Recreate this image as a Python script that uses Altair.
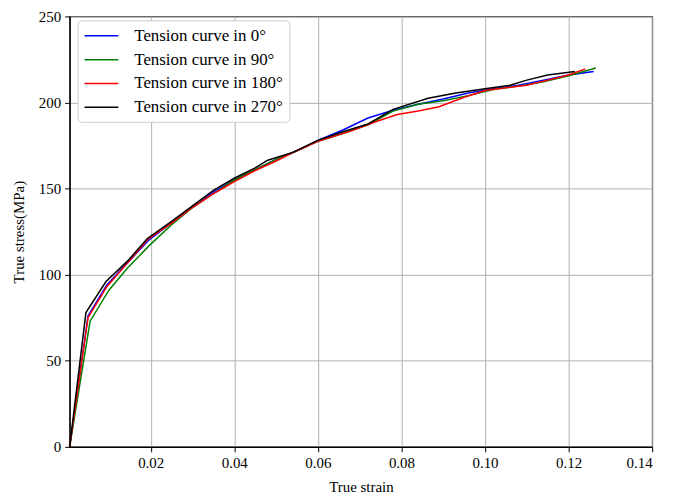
import altair as alt
import pandas as pd

labels = ["Tension curve in 0°", "Tension curve in 90°", "Tension curve in 180°", "Tension curve in 270°"]
colors = ["#0000ff", "#008000", "#ff0000", "#000000"]

strain_0 = [0.0006, 0.005, 0.0095, 0.0145, 0.0195, 0.025, 0.030, 0.035, 0.040, 0.045, 0.050, 0.055, 0.060,
            0.066, 0.072, 0.078, 0.084, 0.090, 0.096, 0.102, 0.108, 0.114, 0.120, 0.126]
stress_0 = [0, 76, 94, 107, 120, 130, 139, 148, 155, 161, 167, 172, 178,
            184, 191, 195.5, 199, 202, 205.5, 208, 210, 213, 216, 218]

strain_90 = [0.0006, 0.0055, 0.010, 0.0145, 0.0197, 0.025, 0.030, 0.035, 0.040, 0.045, 0.050, 0.055, 0.060,
             0.066, 0.072, 0.078, 0.084, 0.090, 0.096, 0.102, 0.108, 0.114, 0.120, 0.1265]
stress_90 = [0, 73, 91, 104, 117, 129, 139, 147, 155, 161, 167, 172, 177.5,
             182, 187, 195, 199, 201, 204, 207.5, 209.5, 212, 215.5, 220]

strain_180 = [0.0006, 0.005, 0.0095, 0.0145, 0.0195, 0.025, 0.030, 0.035, 0.040, 0.045, 0.050, 0.055, 0.060,
              0.068, 0.074, 0.079, 0.084, 0.089, 0.095, 0.100, 0.105, 0.110, 0.115, 0.120, 0.124]
stress_180 = [0, 75, 93, 107, 121, 130, 139, 147, 154, 160.5, 166, 172, 177.5,
              183.5, 189, 193, 195, 197.5, 203, 207, 208.5, 210, 213, 216, 219.5]

strain_270 = [0.0006, 0.0045, 0.0093, 0.0145, 0.0192, 0.025, 0.030, 0.035, 0.040, 0.045, 0.048, 0.054, 0.060,
              0.066, 0.072, 0.078, 0.0864, 0.093, 0.100, 0.106, 0.110, 0.115, 0.1215]
stress_270 = [0, 78, 96, 108, 121, 131, 140, 149, 156, 162, 166.5, 171, 178,
              183, 187.5, 196, 202.5, 205.5, 208, 210, 213, 216, 218]

x_ticks = [0.02, 0.04, 0.06, 0.08, 0.10, 0.12, 0.14]
y_ticks = [0, 50, 100, 150, 200, 250]

series = [(labels[0], strain_0, stress_0), (labels[1], strain_90, stress_90),
          (labels[2], strain_180, stress_180), (labels[3], strain_270, stress_270)]
rows = []
for k, (lab, xs, ys) in enumerate(series):
    for i, (x, y) in enumerate(zip(xs, ys)):
        rows.append({"series": lab, "strain": x, "stress": y, "order": i, "k": k})
df = pd.DataFrame(rows)

FONT = "Liberation Serif"

chart = alt.Chart(df).mark_line(strokeWidth=1.5).encode(
    x=alt.X("strain:Q", title="True strain",
            scale=alt.Scale(domain=[0.0006, 0.14], nice=False, zero=False),
            axis=alt.Axis(values=x_ticks, format=".2f")),
    y=alt.Y("stress:Q", title="True stress(MPa)",
            scale=alt.Scale(domain=[0, 250], nice=False),
            axis=alt.Axis(values=y_ticks, format="d")),
    color=alt.Color("series:N", sort=labels,
                    scale=alt.Scale(domain=labels, range=colors),
                    legend=alt.Legend(title=None, orient="none", legendX=8, legendY=4,
                                      symbolType="M-1,0L3,0", symbolStrokeWidth=1.5, symbolSize=289,
                                      labelFont=FONT, labelFontSize=17, labelColor="black",
                                      labelOffset=32, rowPadding=6, padding=6,
                                      fillColor="white", strokeColor="#cccccc", cornerRadius=4)),
    order=alt.Order("order:Q"),
    detail="k:N",
).properties(
    width=586, height=433,
    autosize=alt.AutoSizeParams(type="none"),
    padding={"left": 62, "top": 7, "right": 30, "bottom": 50},
).configure_axis(
    labelFont=FONT, labelFontSize=15, labelColor="black",
    titleFont=FONT, titleFontSize=15, titleFontWeight="normal", titleColor="black",
    tickColor="black", domainColor="black", tickSize=5, domainWidth=1.2,
    gridColor="#b0b0b0", gridWidth=1, labelPadding=4,
).configure_axisX(titlePadding=9).configure_axisY(titlePadding=12).configure_view(
    stroke="black", strokeWidth=1.2
)

chart.save("out.html", embed_options={"renderer": "svg", "actions": False})
